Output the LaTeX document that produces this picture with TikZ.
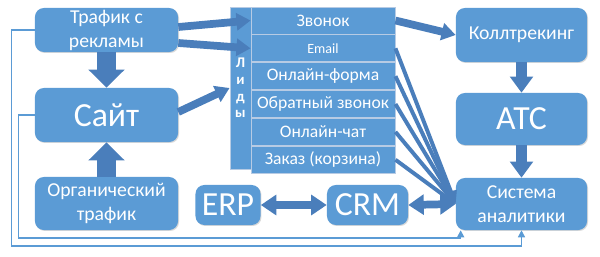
\documentclass[tikz,border=0pt]{standalone}
\usepackage{fontspec}
\setmainfont{Carlito}
\usetikzlibrary{arrows.meta,positioning,calc,shadows}

\definecolor{boxblue}{HTML}{5B9BD5}
\definecolor{arrowblue}{HTML}{4A7EBB}
\definecolor{rowline}{HTML}{B7CBE4}

\begin{document}
\begin{tikzpicture}[x=0.025cm,y=-0.025cm,
  every node/.style={text=white,font=\fontsize{14}{17}\selectfont},
  box/.style={rectangle,fill=boxblue,rounded corners=0.22cm,align=center,inner sep=1pt,
    drop shadow={shadow xshift=0.7pt,shadow yshift=-0.7pt,opacity=0.3}},
  big-text/.style={font=\fontsize{24}{28}\selectfont},
  lead-row/.style={rectangle,fill=boxblue,draw=rowline,line width=0.6pt,minimum width=3.6cm,
    minimum height=0.675cm,inner sep=0pt,font=\fontsize{12.5}{14}\selectfont},
  fat-arrow/.style={draw=arrowblue,line width=14pt,-{Triangle[width=0.875cm,length=0.45cm]}},
  down-arrow/.style={draw=arrowblue,line width=8.5pt,-{Triangle[width=16pt,length=11.5pt]}},
  side-arrow/.style={draw=arrowblue,line width=5.5pt,-{Triangle[width=12pt,length=10pt]}},
  lead-arrow/.style={draw=arrowblue,line width=2.8pt,-{Triangle[width=8pt,length=9pt]}},
  both-arrow/.style={draw=arrowblue,line width=5.5pt,{Triangle[width=14pt,length=11pt]}-{Triangle[width=14pt,length=11pt]}},
  feed-line/.style={draw=boxblue,line width=1pt,-{Triangle[width=5pt,length=5pt]}}]

\useasboundingbox (0,0) rectangle (600,257);

% Traffic sources
\node[box,minimum width=3.575cm,minimum height=1.1cm] (ads) at (106.5,30) {Трафик с\\рекламы};
\node[box,big-text,minimum width=3.575cm,minimum height=1.35cm] (site) at (106.5,115) {Сайт};
\node[box,minimum width=3.575cm,minimum height=1.325cm] (organic) at (106.5,203.5) {Органический\\трафик};

% Leads
\node[rectangle,fill=boxblue,draw=rowline,line width=0.6pt,minimum width=0.525cm,minimum height=4.05cm,
  align=center,font=\fontsize{10.5}{11.8}\selectfont\bfseries] (leads) at (240.5,88) {Л\\и\\д\\ы};
\node[lead-row] (call) at (323,20.5) {Звонок};
\node[lead-row,below=0pt of call,font=\fontsize{10}{12}\selectfont] (email) {Email};
\node[lead-row,below=0pt of email] (form) {Онлайн-форма};
\node[lead-row,below=0pt of form] (callback) {Обратный звонок};
\node[lead-row,below=0pt of callback] (chat) {Онлайн-чат};
\node[lead-row,below=0pt of chat] (cart) {Заказ (корзина)};

% Right column
\node[box,minimum width=3.275cm,minimum height=1.35cm] (calltrack) at (521.5,35) {Коллтрекинг};
\node[box,big-text,minimum width=3.275cm,minimum height=1.3cm] (pbx) at (521.5,119) {АТС};
\node[box,minimum width=3.275cm,minimum height=1.3cm] (analytics) at (521.5,204) {Система\\аналитики};

% Bottom row
\node[box,big-text,minimum width=1.625cm,minimum height=1cm] (erp) at (228,205) {ERP};
\node[box,big-text,minimum width=2.025cm,minimum height=1cm] (crm) at (367.5,205) {CRM};

% Feed lines
\draw[feed-line] (ads.west) -- ++(-23,0) |- (150,246) -| (analytics.south);
\draw[feed-line] (site.west) -- ++(-16,0) |- (150,238) -| ($(analytics.south west)+(5,0)$);

% Connections
\draw[fat-arrow] (ads.south) -- (site.north);
\draw[fat-arrow] (organic.north) -- (site.south);
\draw[side-arrow] ($(ads.east)+(0,-3)$) -- (call.west);
\draw[side-arrow] ($(ads.east)+(0,13)$) -- (email.west);
\draw[side-arrow] ($(site.east)+(0,-3)$) -- (leads.west);
\draw[side-arrow] (call.east) -- (calltrack.west);

\draw[lead-arrow] (email.east) -- (analytics.west);
\draw[lead-arrow] (form.east) -- (analytics.west);
\draw[lead-arrow] (callback.east) -- (analytics.west);
\draw[lead-arrow] (chat.east) -- (analytics.west);
\draw[lead-arrow] (cart.east) -- (analytics.west);

\draw[down-arrow] (calltrack.south) -- (pbx.north);
\draw[down-arrow] (pbx.south) -- (analytics.north);
\draw[both-arrow] (erp.east) -- (crm.west);
\draw[both-arrow] (crm.east) -- (analytics.west);

\end{tikzpicture}
\end{document}
